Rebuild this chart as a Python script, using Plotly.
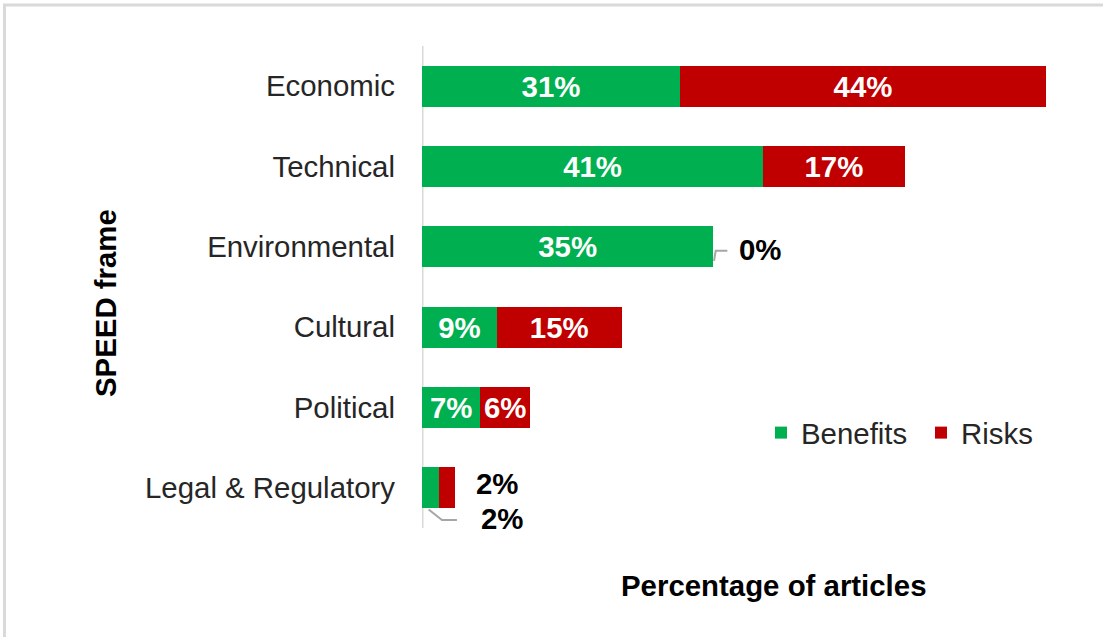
import plotly.graph_objects as go

# SPEED frame categories, share of articles (%) mentioning benefits / risks
categories = ["Economic", "Technical", "Environmental", "Cultural", "Political", "Legal & Regulatory"]
benefits = [31, 41, 35, 9, 7, 2]
risks = [44, 17, 0, 15, 6, 2]

GREEN = "#00B050"
RED = "#C00000"
FONT = "Liberation Sans, Arial, sans-serif"
FS = 29.4

pos = list(range(len(categories)))
MIN_INSIDE = 5  # segments narrower than this get an outside label

def inside_text(vals):
    return [f"{v}%" if v >= MIN_INSIDE else "" for v in vals]

fig = go.Figure()
fig.add_trace(go.Bar(
    y=pos, x=benefits, orientation="h", name="Benefits",
    marker=dict(color=GREEN, line=dict(width=0)), width=0.51,
    text=inside_text(benefits), textposition="inside", insidetextanchor="middle",
    textangle=0, textfont=dict(family=FONT, size=FS, color="white", weight="bold"),
    hoverinfo="skip",
))
fig.add_trace(go.Bar(
    y=pos, x=risks, orientation="h", name="Risks",
    marker=dict(color=RED, line=dict(width=0)), width=0.51,
    text=inside_text(risks), textposition="inside", insidetextanchor="middle",
    textangle=0, textfont=dict(family=FONT, size=FS, color="white", weight="bold"),
    hoverinfo="skip",
))

annotations = []
LEADER = "#a6a6a6"

# Environmental: risks label outside with elbow leader
i = categories.index("Environmental")
end = benefits[i] + risks[i]
fig.add_trace(go.Scatter(
    x=[end + 0.1, end + 0.3, end + 1.7], y=[i + 0.175, i + 0.05, i + 0.05],
    mode="lines", line=dict(color=LEADER, width=2), showlegend=False, hoverinfo="skip",
))
annotations.append(dict(x=end + 2.9, y=i + 0.03, xref="x", yref="y", text=f"<b>{risks[i]}%</b>",
                        showarrow=False, xanchor="left", yanchor="middle",
                        font=dict(family=FONT, size=FS, color="black")))

# Legal & Regulatory: both labels outside
i = categories.index("Legal & Regulatory")
end = benefits[i] + risks[i]
annotations.append(dict(x=end + 2.3, y=i - 0.06, xref="x", yref="y", text=f"<b>{risks[i]}%</b>",
                        showarrow=False, xanchor="left", yanchor="middle",
                        font=dict(family=FONT, size=FS, color="black")))
mid = benefits[i] / 2
fig.add_trace(go.Scatter(
    x=[mid - 0.2, mid + 1.4, mid + 3.2], y=[i + 0.27, i + 0.4, i + 0.4],
    mode="lines", line=dict(color=LEADER, width=2), showlegend=False, hoverinfo="skip",
))
annotations.append(dict(x=end + 2.9, y=i + 0.385, xref="x", yref="y", text=f"<b>{benefits[i]}%</b>",
                        showarrow=False, xanchor="left", yanchor="middle",
                        font=dict(family=FONT, size=FS, color="black")))

L, R, T, B = 422, 57, 46, 109
W, H = 1103, 637
pw, ph = W - L - R, H - T - B

def px_x(p):
    return (p - L) / pw

def px_y(p):
    return (H - B - p) / ph

# Axis titles
annotations.append(dict(x=px_x(773), y=px_y(585), xref="paper", yref="paper",
                        text="<b>Percentage of articles</b>", showarrow=False,
                        xanchor="center", yanchor="middle",
                        font=dict(family=FONT, size=FS, color="black")))
annotations.append(dict(x=px_x(105), y=px_y(303), xref="paper", yref="paper",
                        text="<b>SPEED frame</b>", textangle=-90, showarrow=False,
                        xanchor="center", yanchor="middle",
                        font=dict(family=FONT, size=FS, color="black")))

shapes = [
    # vertical category axis line
    dict(type="line", xref="x", yref="paper", x0=0, x1=0, y0=0, y1=1,
         line=dict(color="#d9d9d9", width=3), layer="below"),
    # frame edges
    dict(type="line", xref="paper", yref="paper", x0=px_x(3), x1=px_x(W), y0=px_y(5), y1=px_y(5),
         line=dict(color="#d9d9d9", width=3)),
    dict(type="line", xref="paper", yref="paper", x0=px_x(4.5), x1=px_x(4.5), y0=px_y(4), y1=px_y(H),
         line=dict(color="#d9d9d9", width=3)),
]

fig.update_layout(
    width=W, height=H,
    margin=dict(l=L, r=R, t=T, b=B, pad=0, autoexpand=False),
    barmode="stack", bargap=0.49,
    paper_bgcolor="white", plot_bgcolor="white",
    font=dict(family=FONT, size=FS, color="#262626"),
    showlegend=True,
    legend=dict(orientation="h", x=px_x(761), y=px_y(433), xanchor="left", yanchor="middle",
                font=dict(family=FONT, size=FS, color="#262626"), bgcolor="rgba(0,0,0,0)",
                traceorder="normal", entrywidth=115, entrywidthmode="pixels"),
    xaxis=dict(range=[0, 75], showgrid=False, zeroline=False, showticklabels=False,
               showline=False, ticks=""),
    yaxis=dict(range=[5.5, -0.5], tickvals=pos, ticktext=categories, showgrid=False,
               zeroline=False, showline=False, ticks="", ticklabelstandoff=26,
               tickfont=dict(family=FONT, size=FS, color="#262626")),
    annotations=annotations,
    shapes=shapes,
)

fig.write_html("out.html")
